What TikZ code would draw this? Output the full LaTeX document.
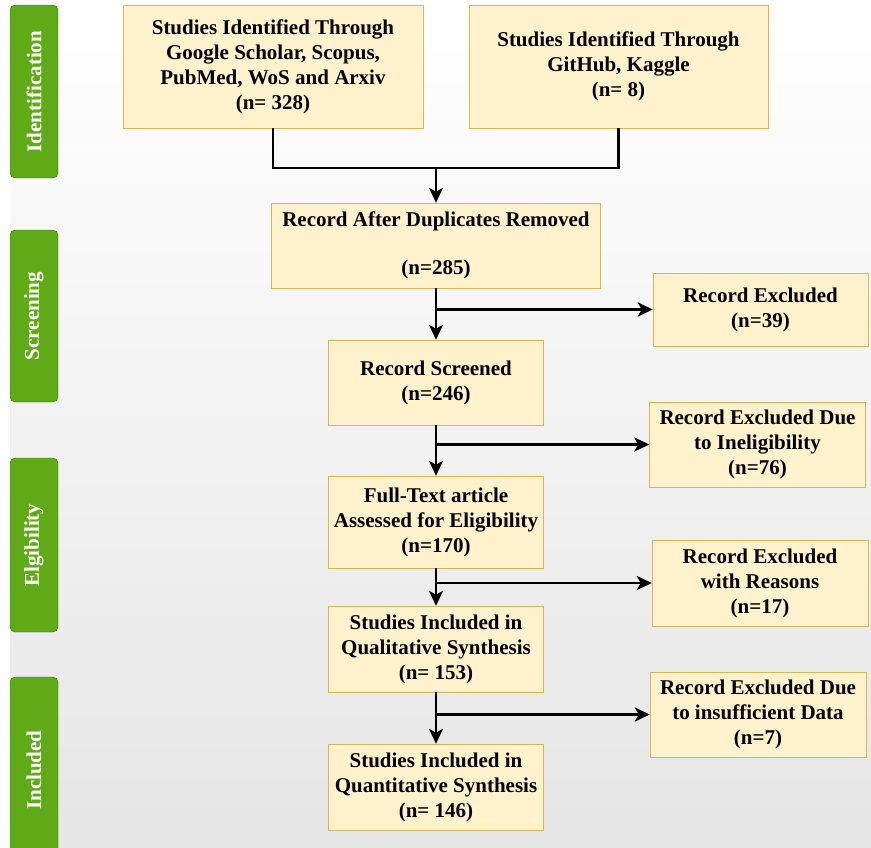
\documentclass[tikz,border=0pt]{standalone}
\usepackage{fontspec}
\setmainfont{Liberation Serif}
\usetikzlibrary{arrows.meta,calc,positioning}
\definecolor{boxfill}{RGB}{255,242,204}
\definecolor{boxline}{RGB}{214,182,86}
\definecolor{stagegreen}{RGB}{96,169,23}
\definecolor{stageline}{RGB}{45,118,0}

\begin{document}
\begin{tikzpicture}[
  x=1pt, y=-1pt,
  box/.style={draw=boxline, fill=boxfill, inner sep=0pt, align=center,
              font=\bfseries\fontsize{21}{25}\selectfont},
  mainbox/.style={box, minimum width=215pt, minimum height=86pt},
  exclbox/.style={box, minimum width=216pt, minimum height=85pt},
  stage/.style={draw=stageline, fill=stagegreen, rounded corners=5pt, rotate=90,
                minimum height=48pt, inner sep=0pt, text=white,
                font=\bfseries\fontsize{21}{24}\selectfont},
  line/.style={line width=2.7pt},
  arr/.style={line, -{Stealth[length=15pt,width=14pt,inset=4pt]}}
]

\useasboundingbox (0,0) rectangle (871,847);
\clip (0,0) rectangle (871,847);
\fill[white] (0,0) rectangle (871,847);
\fill[top color=white, bottom color=black!10] (10,0) rectangle (871,847);

% Stages
\node[stage, minimum width=173pt] (ident) at (34,91.5) {Identification};
\node[stage, minimum width=172pt] (screen) at (34,316) {Screening};
\node[stage, minimum width=174pt] (elig) at (34,545) {Elgibility};
\node[stage, minimum width=186pt] (incl) at (34,770) {Included};

% Sources
\node[box, minimum width=300pt, minimum height=123pt] (scholar) at (273,66.5)
  {Studies Identified Through\\Google Scholar, Scopus,\\PubMed, WoS and Arxiv\\(n= 328)};
\node[box, minimum width=299pt, minimum height=123pt] (github) at (618.5,66.5)
  {Studies Identified Through\\GitHub, Kaggle\\(n= 8)};

% Main column
\node[box, minimum width=329pt, minimum height=85pt] (dedup) at (436,245.5)
  {Record After Duplicates Removed\\[23pt](n=285)};
\node[mainbox, minimum height=85pt] (screened) at (436,382.5) {Record Screened\\(n=246)};
\node[mainbox, minimum height=92pt] (fulltext) at (436,522)
  {Full-Text article\\Assessed for Eligibility\\(n=170)};
\node[mainbox] (qual) at (436,649) {Studies Included in\\Qualitative Synthesis\\(n= 153)};
\node[mainbox] (quant) at (436,787) {Studies Included in\\Quantitative Synthesis\\(n= 146)};

% Exclusions
\node[exclbox, minimum width=215pt, minimum height=73pt] (excl1) at (760.5,309.5)
  {Record Excluded\\(n=39)};
\node[exclbox] (excl2) at (757.5,444.5) {Record Excluded Due\\to Ineligibility\\(n=76)};
\node[exclbox, minimum height=86pt] (excl3) at (760,583) {Record Excluded\\with Reasons\\(n=17)};
\node[exclbox] (excl4) at (758,714.5) {Record Excluded Due\\to insufficient Data\\(n=7)};

\coordinate (merge) at (436,168);
\draw[line] (scholar.south) |- (merge) -| (github.south);
\draw[arr] (merge) -- (dedup);

\draw[arr] (dedup) -- (screened);
\draw[arr] (screened) -- (fulltext);
\draw[arr] (fulltext) -- (qual);
\draw[arr] (qual) -- (quant);

\draw[arr] (dedup.south |- excl1.west) -- (excl1.west);
\draw[arr] (screened.south |- excl2.west) -- (excl2.west);
\draw[arr] (fulltext.south |- excl3.west) -- (excl3.west);
\draw[arr] (qual.south |- excl4.west) -- (excl4.west);

\end{tikzpicture}
\end{document}
